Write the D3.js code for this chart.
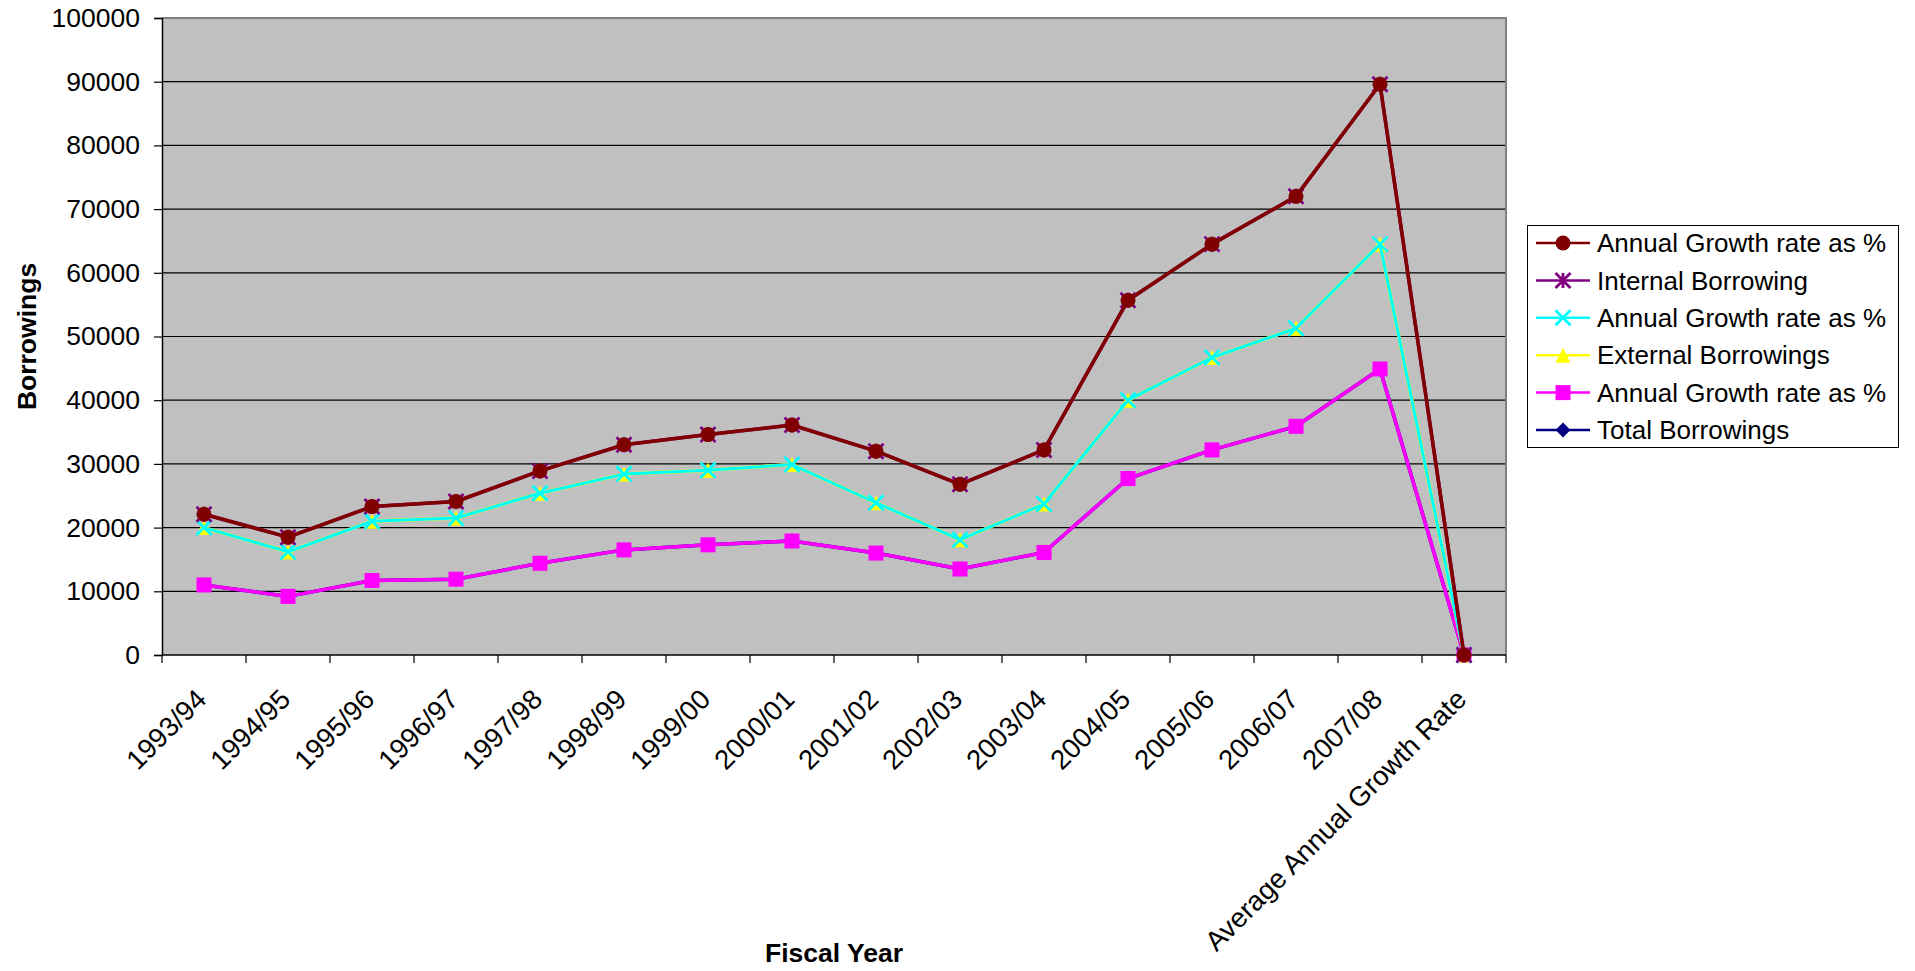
<!DOCTYPE html>
<html>
<head>
<meta charset="utf-8">
<script src="https://cdn.jsdelivr.net/npm/d3@7"></script>
<style>
  body { margin: 0; background: #fff; }
  svg text { font-family: "Liberation Sans", Arial, sans-serif; fill: #000; }
</style>
</head>
<body>
<svg id="chart" width="1915" height="971"></svg>
<script>
// Fiscal years on the category axis
const fiscalYears = ["1993/94", "1994/95", "1995/96", "1996/97", "1997/98", "1998/99", "1999/00",
  "2000/01", "2001/02", "2002/03", "2003/04", "2004/05", "2005/06", "2006/07", "2007/08",
  "Average Annual Growth Rate"];

// Series values (borrowings)
const growthRateA       = [22100, 18500, 23300, 24100, 28900, 33000, 34600, 36100, 32000, 26800, 32200, 55700, 64500, 72000, 89600, 0];
const internalBorrowing = [22100, 18500, 23300, 24100, 28900, 33000, 34600, 36100, 32000, 26800, 32200, 55700, 64500, 72000, 89600, 0];
const growthRateB       = [20000, 16200, 21000, 21500, 25400, 28400, 29000, 29900, 23900, 18100, 23700, 40000, 46700, 51300, 64500, 0];
const externalBorrowings= [20000, 16200, 21000, 21500, 25400, 28400, 29000, 29900, 23900, 18100, 23700, 40000, 46700, 51300, 64500, 0];
const growthRateC       = [11000, 9200, 11700, 11900, 14400, 16500, 17300, 17900, 16000, 13500, 16100, 27700, 32200, 35900, 44900, 0];
const totalBorrowings   = [11000, 9200, 11700, 11900, 14400, 16500, 17300, 17900, 16000, 13500, 16100, 27700, 32200, 35900, 44900, 0];

// Value axis ticks
const yTicks = [0, 10000, 20000, 30000, 40000, 50000, 60000, 70000, 80000, 90000, 100000];

// Legend labels, in legend order
const seriesNames = ["Annual Growth rate as %", "Internal Borrowing", "Annual Growth rate as %",
  "External Borrowings", "Annual Growth rate as %", "Total Borrowings"];

const series = [
  { name: seriesNames[0], values: growthRateA,        color: "#800000", marker: "circle" },
  { name: seriesNames[1], values: internalBorrowing,  color: "#800080", marker: "asterisk" },
  { name: seriesNames[2], values: growthRateB,        color: "#00FFFF", marker: "cross" },
  { name: seriesNames[3], values: externalBorrowings, color: "#FFFF00", marker: "triangle" },
  { name: seriesNames[4], values: growthRateC,        color: "#FF00FF", marker: "square" },
  { name: seriesNames[5], values: totalBorrowings,    color: "#000080", marker: "diamond" }
];
// paint order: later entries sit on top
const drawOrder = [5, 4, 3, 2, 1, 0];

const svg = d3.select("#chart");
const plot = { left: 162, right: 1506, top: 18, bottom: 655 };
const TICK_FONT = 26.5;
const XLABEL_FONT = 27.5;
const LEGEND_FONT = 26;
const TITLE_FONT = 26.5;

const x = d3.scaleBand().domain(fiscalYears).range([plot.left, plot.right]);
const y = d3.scaleLinear().domain([0, 100000]).range([plot.bottom, plot.top]);
const cx = d => x(d) + x.bandwidth() / 2;

// plot area background
svg.append("rect")
  .attr("x", plot.left).attr("y", plot.top)
  .attr("width", plot.right - plot.left).attr("height", plot.bottom - plot.top)
  .attr("fill", "#C0C0C0");

// horizontal gridlines
svg.append("g").selectAll("line").data(yTicks.filter(t => t > 0 && t < 100000)).join("line")
  .attr("x1", plot.left).attr("x2", plot.right)
  .attr("y1", d => y(d)).attr("y2", d => y(d))
  .attr("stroke", "#000").attr("stroke-width", 1.2);

// plot border (top/right)
svg.append("path")
  .attr("d", `M${plot.left},${plot.top}H${plot.right}V${plot.bottom}`)
  .attr("fill", "none").attr("stroke", "#808080").attr("stroke-width", 2);

// y axis
const yAxis = d3.axisLeft(y).tickValues(yTicks).tickSize(8).tickPadding(14).tickFormat(d3.format("d"));
const gy = svg.append("g").attr("transform", `translate(${plot.left},0)`).call(yAxis);
gy.select(".domain").attr("stroke", "#000").attr("stroke-width", 1.5);
gy.selectAll(".tick line").attr("stroke", "#000").attr("stroke-width", 1.2);
gy.selectAll(".tick text").attr("font-size", TICK_FONT).attr("font-family", "Liberation Sans, Arial, sans-serif").attr("fill", "#000");

// x axis line with ticks at category boundaries
const gx = svg.append("g");
gx.append("line").attr("x1", plot.left).attr("x2", plot.right)
  .attr("y1", plot.bottom).attr("y2", plot.bottom).attr("stroke", "#000").attr("stroke-width", 1.5);
gx.selectAll("line.tk").data(fiscalYears.map(d => x(d)).concat([plot.right])).join("line")
  .attr("class", "tk")
  .attr("x1", d => d).attr("x2", d => d)
  .attr("y1", plot.bottom).attr("y2", plot.bottom + 8)
  .attr("stroke", "#000").attr("stroke-width", 1.2);
gx.selectAll("text").data(fiscalYears).join("text")
  .attr("transform", d => `translate(${cx(d) + 4},${plot.bottom + 46}) rotate(-45)`)
  .attr("text-anchor", "end")
  .attr("font-size", XLABEL_FONT)
  .text(d => d);

// axis titles
svg.append("text")
  .attr("transform", `translate(36,${(plot.top + plot.bottom) / 2}) rotate(-90)`)
  .attr("text-anchor", "middle").attr("font-size", TITLE_FONT).attr("font-weight", "bold")
  .text("Borrowings");
svg.append("text")
  .attr("x", (plot.left + plot.right) / 2).attr("y", 962)
  .attr("text-anchor", "middle").attr("font-size", TITLE_FONT).attr("font-weight", "bold")
  .text("Fiscal Year");

// marker drawing
function drawMarker(g, type, color, size) {
  const h = size / 2;
  switch (type) {
    case "circle":
      g.append("circle").attr("r", h).attr("fill", color);
      break;
    case "square":
      g.append("rect").attr("x", -h).attr("y", -h).attr("width", size).attr("height", size).attr("fill", color);
      break;
    case "diamond":
      g.append("path").attr("d", `M0,${-h}L${h},0L0,${h}L${-h},0Z`).attr("fill", color);
      break;
    case "triangle":
      g.append("path").attr("d", `M0,${-h}L${h},${h}L${-h},${h}Z`).attr("fill", color);
      break;
    case "cross":
      g.append("path").attr("d", `M${-h},${-h}L${h},${h}M${h},${-h}L${-h},${h}`)
        .attr("stroke", color).attr("stroke-width", 2.8).attr("fill", "none");
      break;
    case "asterisk":
      g.append("path").attr("d", `M${-h},${-h}L${h},${h}M${h},${-h}L${-h},${h}M0,${-h}V${h}`)
        .attr("stroke", color).attr("stroke-width", 2.8).attr("fill", "none");
      break;
  }
}

const line = d3.line().x((d, i) => cx(fiscalYears[i])).y(d => y(d));
const seriesLayer = svg.append("g");
drawOrder.forEach(k => {
  const s = series[k];
  const g = seriesLayer.append("g");
  g.append("path").datum(s.values).attr("d", line)
    .attr("fill", "none").attr("stroke", s.color)
    .attr("stroke-width", s.marker === "cross" ? 3 : 3.5)
    .attr("stroke-linejoin", "round");
  s.values.forEach((v, i) => {
    const m = g.append("g").attr("transform", `translate(${cx(fiscalYears[i])},${y(v)})`);
    drawMarker(m, s.marker, s.color, 15);
  });
});

// legend
const legend = svg.append("g");
legend.append("rect").attr("x", 1527.5).attr("y", 225.5).attr("width", 371).attr("height", 222)
  .attr("fill", "#fff").attr("stroke", "#000").attr("stroke-width", 1);
series.forEach((s, i) => {
  const ly = 243 + i * 37.4;
  const row = legend.append("g").attr("transform", `translate(0,${ly})`);
  row.append("line").attr("x1", 1536).attr("x2", 1590).attr("y1", 0).attr("y2", 0)
    .attr("stroke", s.color).attr("stroke-width", 2.5);
  drawMarker(row.append("g").attr("transform", "translate(1563,0)"), s.marker, s.color, 15);
  row.append("text").attr("x", 1597).attr("y", 0).attr("dy", "0.35em")
    .attr("font-size", LEGEND_FONT).text(s.name);
});
</script>
</body>
</html>
